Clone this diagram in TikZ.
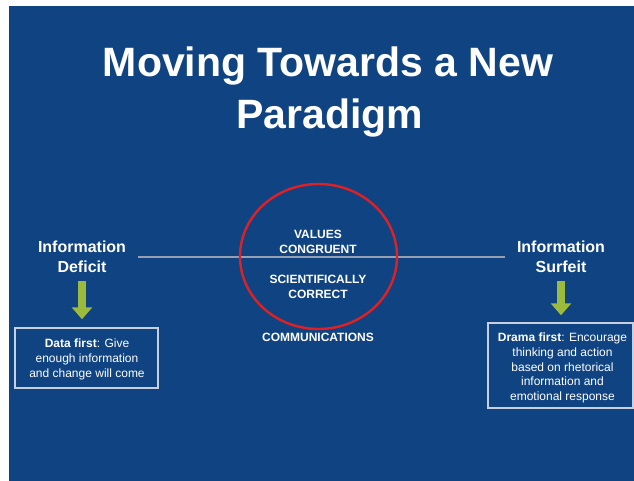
\documentclass[tikz,border=0pt]{standalone}
\usepackage{fontspec}
\setmainfont{Liberation Sans}
\usetikzlibrary{shapes.geometric,arrows.meta}
\definecolor{slide}{RGB}{15,67,130}
\definecolor{arrowgreen}{RGB}{156,187,60}
\definecolor{ringred}{RGB}{226,32,36}
\definecolor{rulegray}{RGB}{150,160,178}
\definecolor{boxline}{RGB}{200,208,222}
\begin{document}
\begin{tikzpicture}[x=1pt,y=-1pt,
  titletext/.style={text=white,inner sep=0pt,anchor=base,font=\fontsize{41}{48}\selectfont\bfseries},
  headtext/.style={text=white,inner sep=0pt,align=center,font=\fontsize{16}{20}\selectfont\bfseries},
  captext/.style={text=white,inner sep=0pt,align=center,font=\fontsize{12}{15}\selectfont\bfseries},
  boxtext/.style={text=white,inner sep=0pt,align=center,font=\fontsize{12}{14.7}\selectfont},
  framebox/.style={draw=boxline,line width=1.4pt,inner sep=0pt},
  ring/.style={ellipse,draw=ringred,line width=2.4pt,inner sep=0pt},
  greenarrow/.style={draw=arrowgreen,line width=8pt,-{Triangle[width=20pt,length=12pt]}},
  hline/.style={draw=rulegray,line width=1.8pt}
]
\useasboundingbox (0,0) rectangle (634,481);
\fill[white] (0,0) rectangle (634,481);
\fill[slide] (9,6) rectangle (634,481);

% title
\node[titletext] (t1) at (328,77) {Moving Towards a New};
\node[titletext] (t2) at (330,129) {Paradigm};

% headings
\node[headtext] (lhead) at (82,257) {Information\\Deficit};
\node[headtext] (rhead) at (561,257) {Information\\Surfeit};

% horizontal rule
\draw[hline,shorten <=12pt,shorten >=12pt] (lhead.east) -- (rhead.west);

% ring
\node[ring,minimum width=157pt,minimum height=145pt] (circ) at (318.5,256.5) {};
\node[captext] (vals) at (318,242) {VALUES\\CONGRUENT};
\node[captext] (sci) at (318,286.5) {SCIENTIFICALLY\\CORRECT};
\node[captext] (comm) at (318,337.5) {COMMUNICATIONS};

% boxes
\node[framebox,minimum width=143pt,minimum height=60pt] (lbox) at (86.5,358) {};
\node[boxtext] (ltext) at (87,359.5) {\textbf{Data first}: Give\\enough information\\and change will come};
\node[framebox,minimum width=145pt,minimum height=85pt] (rbox) at (560.5,365.5) {};
\node[boxtext] (rtext) at (562.5,368) {\textbf{Drama first}: Encourage\\thinking and action\\based on rhetorical\\information and\\emotional response};

% arrows
\draw[greenarrow,shorten <=8pt,shorten >=8pt] (lhead.south) -- (lhead.south |- lbox.north);
\draw[greenarrow,shorten <=8pt,shorten >=7pt] (rhead.south) -- (rhead.south |- rbox.north);
\end{tikzpicture}
\end{document}
